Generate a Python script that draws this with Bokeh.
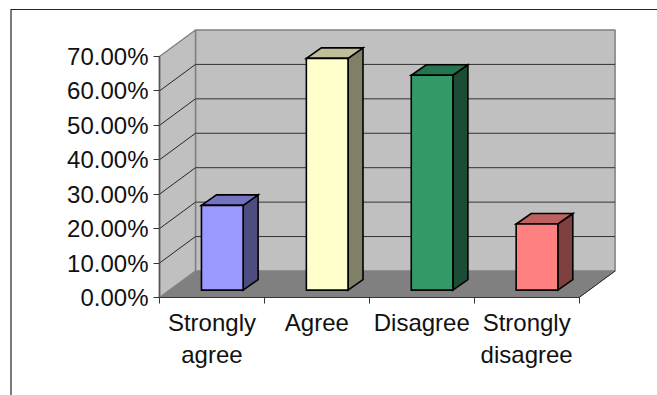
from bokeh.embed import file_html
from bokeh.models import BoxAnnotation, FixedTicker, PrintfTickFormatter, Range1d
from bokeh.plotting import figure
from bokeh.resources import INLINE

# Survey responses, percent of respondents
categories = ["Strongly\nagree", "Agree", "Disagree", "Strongly\ndisagree"]
values = [24.6, 67.3, 62.4, 19.2]
front_colors = ["#9999FF", "#FFFFCC", "#339966", "#FF8080"]
top_colors = ["#7373BF", "#BFBF99", "#267350", "#BF6060"]
side_colors = ["#4D4D80", "#808066", "#1A4D33", "#804040"]
y_ticks = [0, 10, 20, 30, 40, 50, 60, 70]

# Oblique projection, in axis units: how far the back wall and bar depth shift
WALL_DX, WALL_DY = 0.343, 7.7
BAR_DX, BAR_DY = 0.143, 3.05
BAR_BASE = 2.15
BAR_LEFT, BAR_WIDTH = 0.40, 0.397

WIDTH, HEIGHT = 657, 395
ORIGIN_X, ORIGIN_Y = 159, 297
X_PER_UNIT, Y_PER_UNIT = 104.9, 3.443

# The frame fills the page so the border can be drawn; axes are pinned at the origin
p = figure(
    width=WIDTH, height=HEIGHT, output_backend="svg", toolbar_location=None,
    x_range=Range1d(-ORIGIN_X / X_PER_UNIT, (WIDTH - ORIGIN_X) / X_PER_UNIT),
    y_range=Range1d(-(HEIGHT - ORIGIN_Y) / Y_PER_UNIT, ORIGIN_Y / Y_PER_UNIT),
    min_border_left=0, min_border_bottom=0, min_border_top=0, min_border_right=0,
    outline_line_color=None, background_fill_color="white",
)
p.grid.visible = False

n = len(categories)
top = y_ticks[-1]

# Floor, back wall and side wall
p.patch([0, n, n + WALL_DX, WALL_DX], [0, 0, WALL_DY, WALL_DY], fill_color="#808080", line_color="#808080")
p.patch([WALL_DX, n + WALL_DX, n + WALL_DX, WALL_DX], [WALL_DY, WALL_DY, top + WALL_DY, top + WALL_DY],
        fill_color="#C0C0C0", line_color="#808080", line_width=1.5)
p.patch([0, WALL_DX, WALL_DX, 0], [0, WALL_DY, top + WALL_DY, top],
        fill_color="#C0C0C0", line_color="#808080", line_width=1.5)

# Gridlines wrap from the side wall onto the back wall
grid = y_ticks[1:-1]
p.segment([0] * len(grid), grid, [WALL_DX] * len(grid), [g + WALL_DY for g in grid],
          line_color="#262626", line_width=1)
p.segment([WALL_DX] * len(grid), [g + WALL_DY for g in grid],
          [n + WALL_DX] * len(grid), [g + WALL_DY for g in grid],
          line_color="#333333", line_width=1)
p.segment([n], [0], [n + WALL_DX], [WALL_DY], line_color="#262626", line_width=1)

# Bars: front face, lid and right side
for i, v in enumerate(values):
    x0 = i + BAR_LEFT
    x1 = x0 + BAR_WIDTH
    y0 = BAR_BASE
    y1 = y0 + v
    style = dict(line_color="black", line_width=1.6, line_join="miter")
    p.patch([x1, x1 + BAR_DX, x1 + BAR_DX, x1], [y0, y0 + BAR_DY, y1 + BAR_DY, y1],
            fill_color=side_colors[i], **style)
    p.patch([x0, x1, x1 + BAR_DX, x0 + BAR_DX], [y1, y1, y1 + BAR_DY, y1 + BAR_DY],
            fill_color=top_colors[i], **style)
    p.patch([x0, x1, x1, x0], [y0, y0, y1, y1], fill_color=front_colors[i], **style)

# Value axis
ya = p.yaxis[0]
ya.fixed_location = 0
ya.ticker = FixedTicker(ticks=y_ticks)
ya.formatter = PrintfTickFormatter(format="%.2f%%")
ya.bounds = (0, top)
ya.axis_line_color = "#555555"
ya.axis_line_width = 1.5
ya.major_tick_line_color = "#333333"
ya.major_tick_in = 0
ya.major_tick_out = 6
ya.minor_tick_line_color = None
ya.major_label_standoff = 5
ya.major_label_text_font = "Liberation Sans"
ya.major_label_text_font_size = "24px"
ya.major_label_text_color = "#111111"

# Category axis: labels sit between the boundary ticks
centers = [i + 0.5 for i in range(n)]
xa = p.xaxis[0]
xa.fixed_location = 0
xa.ticker = FixedTicker(ticks=centers, minor_ticks=list(range(n + 1)))
xa.major_label_overrides = dict(zip(centers, categories))
xa.bounds = (0, n)
xa.axis_line_color = "#333333"
xa.axis_line_width = 1.2
xa.major_tick_line_color = None
xa.minor_tick_line_color = "#333333"
xa.minor_tick_in = 0
xa.minor_tick_out = 6
xa.major_label_standoff = 5
xa.major_label_text_font = "Liberation Sans"
xa.major_label_text_font_size = "24px"
xa.major_label_text_color = "#111111"
xa.major_label_text_line_height = 1.22

# Chart area border: only its top and left edges fall inside the page.
# Screen units here count upward from the bottom of the frame.
p.add_layout(BoxAnnotation(
    left=10.5, right=WIDTH + 20, top=HEIGHT - 9, bottom=-20,
    left_units="screen", right_units="screen", top_units="screen", bottom_units="screen",
    fill_color=None, line_color="#222222", line_width=1.2, line_alpha=1,
))

open("out.html", "w").write(file_html(p, INLINE))
